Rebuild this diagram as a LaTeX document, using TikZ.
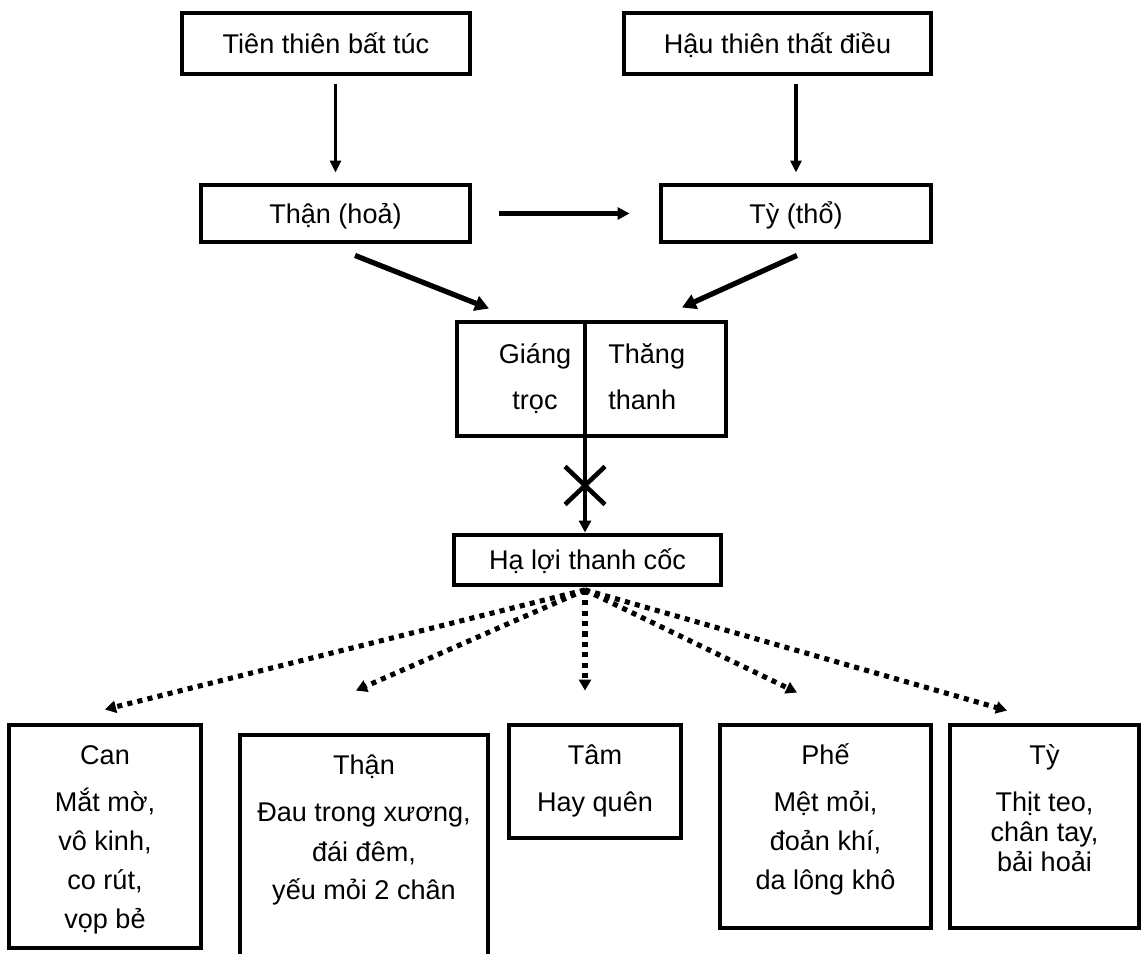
\documentclass[tikz,border=0pt]{standalone}
\usepackage{fontspec}
\setmainfont{Liberation Sans}
\usepackage{tikz}
\usetikzlibrary{arrows.meta, positioning, calc}

\newcommand{\organtext}[4][0.78cm]{%
  \parbox[c][#2][t]{#3}{\fontsize{15.4pt}{#1}\selectfont\centering\rule{0pt}{0.8cm}#4}}

\begin{document}
\begin{tikzpicture}[
    box/.style={draw, line width=2.8pt, inner sep=0pt, font=\fontsize{15.4pt}{18pt}\selectfont, text height=11pt, text depth=0pt},
    organ/.style={draw, line width=2.8pt, inner sep=0pt},
    coltext/.style={inner sep=0pt, align=center, font=\fontsize{15.4pt}{0.92cm}\selectfont},
    thin arrow/.style={line width=2pt, -{Triangle[length=0.24cm, width=0.22cm]}},
    mid arrow/.style={line width=2.3pt, -{Triangle[length=0.24cm, width=0.24cm]}},
    thick arrow/.style={line width=3pt, -{Triangle[length=0.28cm, width=0.3cm]}},
    dotted arrow/.style={line width=2.9pt, dash pattern=on 2.9pt off 3pt, -{Triangle[length=0.22cm, width=0.24cm]}}
]
    \useasboundingbox (0,0) rectangle (22.86,19.08);
    \clip (0,0) rectangle (22.86,19.08);

    % The Causes (top row)
    \node[box, minimum width=5.76cm, minimum height=1.22cm] (tien) at (6.52,18.21) {Tiên thiên bất túc};
    \node[box, minimum width=6.14cm, minimum height=1.22cm] (hau) at (15.55,18.21) {Hậu thiên thất điều};

    % The Organs (fire and earth)
    \node[box, minimum width=5.38cm, minimum height=1.14cm] (than) at (6.71,14.81) {Thận (hoả)};
    \node[box, minimum width=5.40cm, minimum height=1.14cm] (ty) at (15.92,14.81) {Tỳ (thổ)};

    \draw[thin arrow, shorten <=0.16cm, shorten >=0.2cm] (than.north |- tien.south) -- (than.north);
    \draw[thin arrow, shorten <=0.16cm, shorten >=0.2cm] (ty.north |- hau.south) -- (ty.north);
    \draw[mid arrow, shorten <=0.54cm, shorten >=0.58cm] (than.east) -- (ty.west);

    % The Split Box (turbid / clear)
    \node[organ, minimum width=5.38cm, minimum height=2.28cm] (gt) at (11.83,11.50) {};
    \coordinate (split) at ([xshift=-0.13cm]gt.north);
    \draw[line width=2.3pt] (split) -- (split |- gt.south);
    \node[coltext, anchor=north] (giang) at (10.70,12.42) {\rule{0pt}{0.6cm}Giáng\\trọc};
    \node[coltext, anchor=north west, align=left] (thang) at (12.16,12.42) {\rule{0pt}{0.6cm}Thăng\\thanh};

    \draw[thick arrow] ([xshift=0.39cm, yshift=-0.22cm]than.south) -- ([xshift=-2.05cm, yshift=0.22cm]gt.north);
    \draw[thick arrow] ([xshift=0.02cm, yshift=-0.22cm]ty.south) -- ([xshift=1.81cm, yshift=0.24cm]gt.north);

    % The Blocked Path
    \node[box, minimum width=5.34cm, minimum height=1.0cm] (ha) at (11.75,7.88) {Hạ lợi thanh cốc};
    \draw[mid arrow] (split |- gt.south) -- (split |- ha.north);
    \coordinate (cut) at ($(split |- gt.south)!0.5!(split |- ha.north)$);
    \draw[line width=2.6pt] ([shift={(-0.4,0.38)}]cut) -- ([shift={(0.4,-0.38)}]cut);
    \draw[line width=2.6pt] ([shift={(-0.4,-0.38)}]cut) -- ([shift={(0.4,0.38)}]cut);

    % The Five Organs (bottom row)
    \node[organ] (can) at (2.10,2.35) {\organtext{4.46cm}{3.84cm}{Can\\[0.16cm]Mắt mờ,\\vô kinh,\\co rút,\\vọp bẻ}};
    \node[organ] (thanB) at (7.28,1.73) {\organtext{5.3cm}{4.96cm}{Thận\\[0.16cm]Đau trong xương,\\đái đêm,\\yếu mỏi 2 chân}};
    \node[organ] (tam) at (11.90,3.45) {\organtext{2.26cm}{3.44cm}{Tâm\\[0.16cm]Hay quên}};
    \node[organ] (phe) at (16.51,2.55) {\organtext{4.06cm}{4.22cm}{Phế\\[0.16cm]Mệt mỏi,\\đoản khí,\\da lông khô}};
    \node[organ] (tyB) at (20.89,2.55) {\organtext[0.6cm]{4.06cm}{3.78cm}{Tỳ\\[0.34cm]Thịt teo,\\chân tay,\\bải hoải}};

    % Dotted Fan (effects)
    \coordinate (fan) at ([xshift=-0.05cm, yshift=-0.05cm]ha.south);
    \draw[dotted arrow] (fan) -- ([yshift=0.26cm]can.north);
    \draw[dotted arrow] (fan) -- ([xshift=-0.16cm, yshift=0.84cm]thanB.north);
    \draw[dotted arrow] (fan) -- ([yshift=0.64cm]tam.north -| fan);
    \draw[dotted arrow] (fan) -- ([xshift=-0.57cm, yshift=0.60cm]phe.north);
    \draw[dotted arrow] (fan) -- ([xshift=-0.75cm, yshift=0.24cm]tyB.north);
\end{tikzpicture}
\end{document}
